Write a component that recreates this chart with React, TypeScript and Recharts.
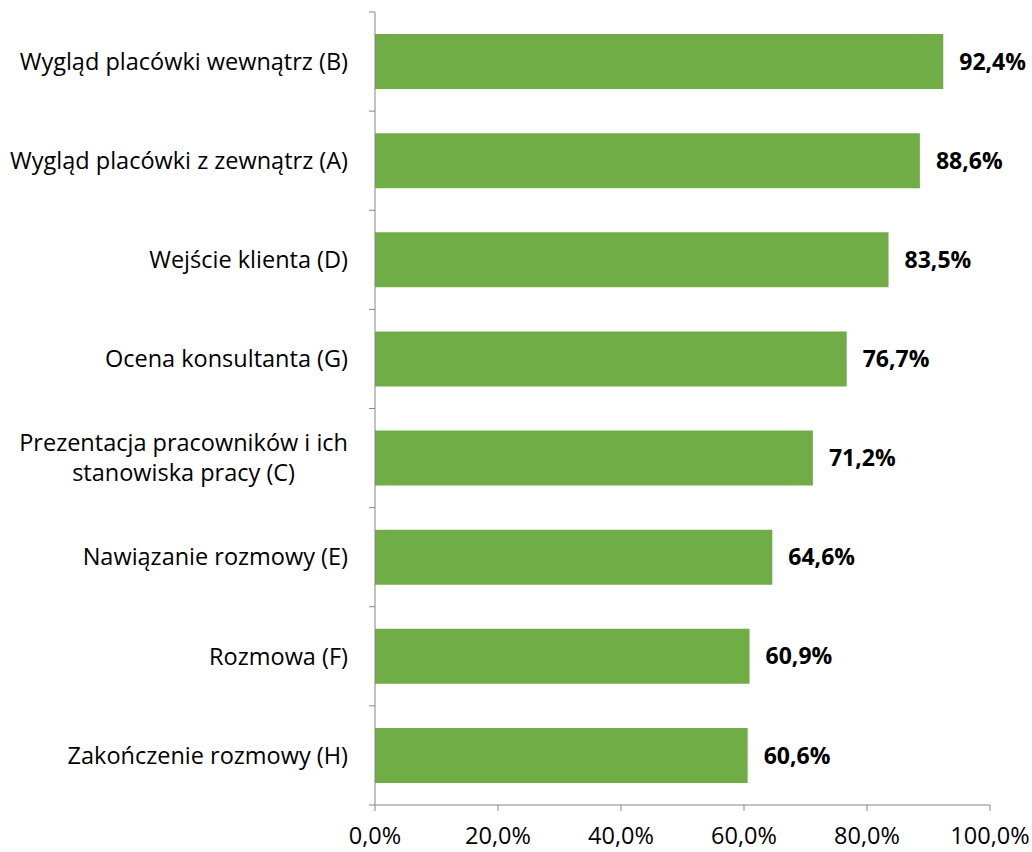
import React from "react";
import { BarChart, Bar, XAxis, YAxis, LabelList } from "recharts";

const categories = [
  "Wygląd placówki wewnątrz (B)",
  "Wygląd placówki z zewnątrz (A)",
  "Wejście klienta (D)",
  "Ocena konsultanta (G)",
  "Prezentacja pracowników i ich|stanowiska pracy (C)",
  "Nawiązanie rozmowy (E)",
  "Rozmowa (F)",
  "Zakończenie rozmowy (H)",
];
const values = [92.4, 88.6, 83.5, 76.7, 71.2, 64.6, 60.9, 60.6];
const xTicks = [0, 20, 40, 60, 80, 100];

const data = categories.map((c, i) => ({ name: c, value: values[i] }));

const FONT = "'Open Sans', Lato, sans-serif";
const AXIS = "#868686";
const W = 1032;
const H = 852;
const M = { top: 12, right: 42, bottom: 0, left: 0 };
const Y_W = 375;
const X_H = 47;
const CAT_SIZE = 23.5;

let ctx: CanvasRenderingContext2D | null = null;
function measure(t: string, size: number) {
  if (!ctx) ctx = document.createElement("canvas").getContext("2d");
  if (!ctx) return t.length * size * 0.5;
  ctx.font = `${size}px ${FONT}`;
  return ctx.measureText(t).width;
}

const fmt = (v: number) => v.toFixed(1).replace(".", ",") + "%";

const YTick = (props: any) => {
  const { y, payload, index } = props;
  const band = (H - M.top - X_H) / categories.length;
  const axisX = Y_W;
  const lines = String(payload.value).split("|");
  const right = axisX - 27;
  const size = CAT_SIZE;
  const widths = lines.map((l) => measure(l, size));
  const maxW = Math.max(...widths);
  const lh = 30;
  return (
    <g>
      <line x1={axisX - 6} x2={axisX} y1={y - band / 2} y2={y - band / 2} stroke={AXIS} />
      {index === categories.length - 1 && (
        <line x1={axisX - 6} x2={axisX} y1={y + band / 2} y2={y + band / 2} stroke={AXIS} />
      )}
      {lines.length === 1 ? (
        <text x={right} y={y} dy="0.35em" textAnchor="end" fontSize={size} fontFamily={FONT} fill="#000">
          {lines[0]}
        </text>
      ) : (
        lines.map((l, i) => (
          <text
            key={i}
            x={right - maxW / 2}
            y={y + (i - (lines.length - 1) / 2) * lh}
            dy="0.35em"
            textAnchor="middle"
            fontSize={size}
            fontFamily={FONT}
            fill="#000"
          >
            {l}
          </text>
        ))
      )}
    </g>
  );
};

export default function App() {
  return (
    <div style={{ position: "absolute", left: 0, top: 0, background: "#fff" }}>
      <BarChart width={W} height={H} data={data} layout="vertical" margin={M}>
        <XAxis
          type="number"
          domain={[0, 100]}
          ticks={xTicks}
          interval={0}
          height={X_H}
          axisLine={{ stroke: AXIS }}
          tickLine={{ stroke: AXIS }}
          tickSize={6}
          tickFormatter={(v: number) => v.toFixed(1).replace(".", ",") + "%"}
          tick={{ fill: "#000", fontSize: 23.5, fontFamily: FONT }}
          tickMargin={16}
        />
        <YAxis
          type="category"
          dataKey="name"
          width={Y_W}
          axisLine={{ stroke: AXIS }}
          tickLine={false}
          tick={<YTick />}
          interval={0}
        />
        <Bar dataKey="value" fill="#70AD47" barSize={55} isAnimationActive={false}>
          <LabelList
            dataKey="value"
            position="right"
            offset={16}
            formatter={(v: any) => fmt(Number(v))}
            style={{ fill: "#000", fontSize: 23, fontWeight: 700, fontFamily: FONT }}
          />
        </Bar>
      </BarChart>
    </div>
  );
}
